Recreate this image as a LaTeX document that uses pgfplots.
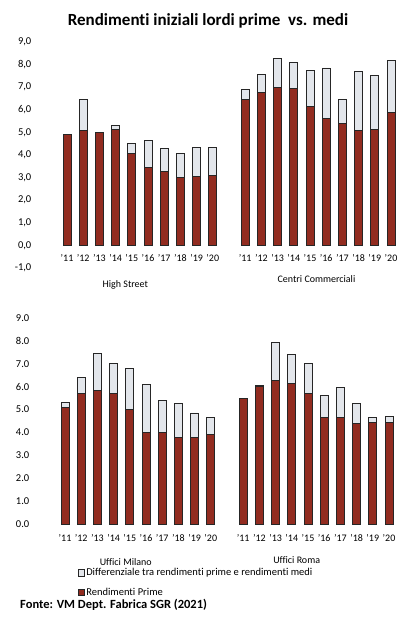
\documentclass[border=0pt]{standalone}
\usepackage{fontspec}
\setmainfont{Carlito}[Ligatures={TeX,NoCommon}]
\usepackage{pgfplots}
\usepackage{pgfplotstable}
\pgfplotsset{compat=1.18}
\definecolor{primec}{HTML}{922C20}
\definecolor{diffc}{HTML}{E3E6EB}

\pgfplotstableread{
x prime diff
0  4.90 0.00
1  5.10 1.35
2  5.00 0.00
3  5.15 0.15
4  4.05 0.45
5  3.45 1.20
6  3.25 1.05
7  3.00 1.05
8  3.05 1.30
9  3.10 1.25
11 6.45 0.45
12 6.75 0.80
13 7.00 1.25
14 6.95 1.15
15 6.15 1.60
16 5.60 2.25
17 5.40 1.05
18 5.10 2.60
19 5.15 2.35
20 5.90 2.30
}\topdata

\pgfplotstableread{
x prime diff
0  5.10 0.20
1  5.70 0.70
2  5.85 1.60
3  5.70 1.30
4  5.00 1.80
5  4.00 2.10
6  4.00 1.40
7  3.80 1.45
8  3.80 1.05
9  3.90 0.75
11 5.50 0.00
12 6.00 0.05
13 6.25 1.70
14 6.15 1.25
15 5.70 1.30
16 4.65 0.95
17 4.65 1.30
18 4.40 0.85
19 4.45 0.20
20 4.45 0.25
}\botdata

\pgfplotsset{
  panel/.style={
    scale only axis, width=348.3pt, xmin=-1, xmax=20.5,
    ybar stacked, bar width=8pt,
    axis line style={draw=none}, tick style={draw=none},
    major tick length=0pt,
    xtick={0,1,2,3,4,5,6,7,8,9,11,12,13,14,15,16,17,18,19,20},
    xticklabels={'11,'12,'13,'14,'15,'16,'17,'18,'19,'20,'11,'12,'13,'14,'15,'16,'17,'18,'19,'20},
    x tick label style={font=\fontsize{10}{11}\selectfont, anchor=center, inner sep=0pt},
    y tick label style={font=\fontsize{10.5}{11}\selectfont, anchor=east, xshift=-16pt},
    /pgf/number format/assume math mode=true,
    yticklabel style={/pgf/number format/.cd, fixed, fixed zerofill, precision=1},
    clip=false,
  },
  pbar/.style={fill=primec, draw=black!85, line width=0.9pt},
  dbar/.style={fill=diffc, draw=black!85, line width=0.9pt},
}

\begin{document}
\begin{tikzpicture}
\useasboundingbox (0pt,0pt) rectangle (401pt,618pt);

\node[font=\fontsize{17}{19}\selectfont\bfseries] at (208pt,597pt) {Rendimenti iniziali lordi prime\ \ vs. medi};

\begin{axis}[panel, at={(50.8pt,350pt)}, anchor=south west, height=226pt,
  ymin=-1, ymax=9, ytick={-1,0,1,2,3,4,5,6,7,8,9},
  yticklabel style={/pgf/number format/use comma},
  x tick label style={yshift=10pt}]
\addplot[pbar] table[x=x,y=prime]{\topdata};
\addplot[dbar] table[x=x,y=diff]{\topdata};
\node[font=\fontsize{10}{11}\selectfont] at (axis cs:3.6,-1.73) {High Street};
\node[font=\fontsize{10}{11}\selectfont] at (axis cs:15.4,-1.5) {Centri Commerciali};
\end{axis}

\begin{axis}[panel, at={(48.8pt,94pt)}, anchor=south west, height=206pt,
  ymin=0, ymax=9, ytick={0,1,2,3,4,5,6,7,8,9},
  x tick label style={yshift=-14pt},
  reverse legend,
  legend style={at={(0.084,-0.205)}, anchor=north west, draw=none, fill=none,
    font=\fontsize{10.5}{11}\selectfont, row sep=7pt, inner sep=0pt,
    /tikz/every even column/.append style={column sep=2pt}},
  legend cell align=left,
  legend image code/.code={\draw[#1, line width=0.5pt] (0pt,-3pt) rectangle (5.5pt,3.5pt);}]
\addplot[pbar] table[x=x,y=prime]{\botdata};
\addplot[dbar] table[x=x,y=diff]{\botdata};
\legend{Rendimenti Prime, Differenziale tra rendimenti prime e rendimenti medi}
\node[font=\fontsize{10}{11}\selectfont] at (axis cs:3.75,-1.66) {Uffici Milano};
\node[font=\fontsize{10}{11}\selectfont] at (axis cs:14.3,-1.57) {Uffici Roma};
\end{axis}

\node[anchor=west, font=\fontsize{12.5}{13}\selectfont\bfseries, inner sep=0pt] at (20pt,13pt) {Fonte: VM Dept. Fabrica SGR (2021)};
\end{tikzpicture}
\end{document}
